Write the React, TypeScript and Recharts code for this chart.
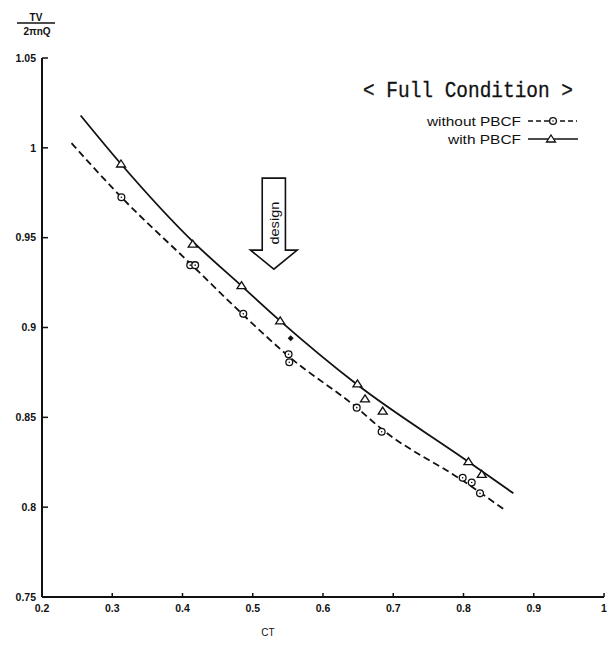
import React from 'react';
import {
  ComposedChart,
  Line,
  Scatter,
  XAxis,
  YAxis,
  ReferenceDot,
  Legend,
} from 'recharts';

// Measured points, open circles: without PBCF
const withoutPbcfCt = [0.313, 0.411, 0.418, 0.4865, 0.551, 0.552, 0.648, 0.6835, 0.7988, 0.8117, 0.8235];
const withoutPbcfTv = [0.9725, 0.9347, 0.9347, 0.9076, 0.8851, 0.8807, 0.8554, 0.842, 0.8164, 0.8137, 0.8077];

// Measured points, open triangles: with PBCF
const withPbcfCt = [0.3125, 0.4145, 0.484, 0.539, 0.649, 0.6598, 0.685, 0.807, 0.826];
const withPbcfTv = [0.991, 0.9464, 0.9233, 0.9037, 0.8686, 0.8603, 0.8535, 0.8253, 0.8183];

// Single filled mark near the design point
const filledCt = [0.554];
const filledTv = [0.894];

// Faired curves
const withoutCurveCt = [0.242, 0.313, 0.414, 0.4865, 0.551, 0.648, 0.6835, 0.8, 0.859];
const withoutCurveTv = [1.0026, 0.9725, 0.9345, 0.907, 0.884, 0.8554, 0.8435, 0.8145, 0.7984];
const withCurveCt = [0.255, 0.3125, 0.4148, 0.484, 0.539, 0.648, 0.807, 0.871];
const withCurveTv = [1.018, 0.991, 0.9478, 0.9232, 0.9037, 0.8684, 0.8253, 0.8077];

// Axis ticks
const xTicks = [0.2, 0.3, 0.4, 0.5, 0.6, 0.7, 0.8, 0.9, 1];
const yTicks = [0.75, 0.8, 0.85, 0.9, 0.95, 1, 1.05];

// Design-point arrow (tip position)
const designCt = 0.53;
const designTv = 0.9325;

const toPoints = (xs: number[], ys: number[]) => xs.map((ct, i) => ({ ct, tv: ys[i] }));

const withoutPoints = toPoints(withoutPbcfCt, withoutPbcfTv);
const withPoints = toPoints(withPbcfCt, withPbcfTv);
const filledPoints = toPoints(filledCt, filledTv);
const withoutCurve = toPoints(withoutCurveCt, withoutCurveTv);
const withCurve = toPoints(withCurveCt, withCurveTv);

const INK = '#111';
const TICK_FONT = '"Liberation Sans", Arial, sans-serif';
const Y_TICK_MARGIN = 5;
const X_TICK_MARGIN = 6;

const YTick = (props: any) => {
  const { x, y, payload } = props;
  const axisX = x + Y_TICK_MARGIN;
  return (
    <g>
      <line x1={axisX} x2={axisX + 6} y1={y} y2={y} stroke={INK} strokeWidth={1.5} />
      <text
        x={x - 1}
        y={y}
        dy="0.36em"
        textAnchor="end"
        fontFamily={TICK_FONT}
        fontWeight={700}
        fontSize={10.5}
        fill={INK}
      >
        {String(payload.value)}
      </text>
    </g>
  );
};

const XTick = (props: any) => {
  const { x, y, payload } = props;
  const axisY = y - X_TICK_MARGIN;
  return (
    <g>
      <line x1={x} x2={x} y1={axisY} y2={axisY - 4} stroke={INK} strokeWidth={1.5} />
      <text
        x={x}
        y={y}
        dy="0.85em"
        textAnchor="middle"
        fontFamily={TICK_FONT}
        fontWeight={700}
        fontSize={10.5}
        fill={INK}
      >
        {String(payload.value)}
      </text>
    </g>
  );
};

const YAxisTitle = (props: any) => {
  const vb = props.viewBox || { x: 0, y: 58 };
  const cx = vb.x + 36;
  const top = vb.y;
  return (
    <g fontFamily={TICK_FONT} fontWeight={700} fill={INK}>
      <text x={cx} y={top - 37} textAnchor="middle" fontSize={10}>TV</text>
      <line x1={cx - 19} x2={cx + 19} y1={top - 35} y2={top - 35} stroke={INK} strokeWidth={1.3} />
      <text x={cx + 1} y={top - 23} textAnchor="middle" fontSize={10}>2πnQ</text>
    </g>
  );
};

const XAxisTitle = (props: any) => {
  const vb = props.viewBox || { x: 42, y: 597 };
  return (
    <text
      x={vb.x + 226}
      y={vb.y + 39}
      textAnchor="middle"
      fontFamily={TICK_FONT}
      fontSize={10}
      fill={INK}
    >
      CT
    </text>
  );
};

const CircleMark = (props: any) => {
  const { cx, cy } = props;
  return (
    <g>
      <circle cx={cx} cy={cy} r={3.4} fill="#fff" stroke={INK} strokeWidth={1.3} />
      <circle cx={cx} cy={cy} r={0.8} fill={INK} />
    </g>
  );
};

const TriangleMark = (props: any) => {
  const { cx, cy } = props;
  const d = `M${cx},${cy - 4} L${cx + 4.5},${cy + 3} L${cx - 4.5},${cy + 3} Z`;
  return <path d={d} fill="#fff" stroke={INK} strokeWidth={1.3} />;
};

const FilledMark = (props: any) => {
  const { cx, cy } = props;
  const d = `M${cx},${cy - 3} L${cx + 3},${cy} L${cx},${cy + 3} L${cx - 3},${cy} Z`;
  return <path d={d} fill={INK} />;
};

const DesignArrow = (props: any) => {
  const { cx, cy } = props;
  const bw = 11.6;
  const hw = 23.4;
  const hh = 19;
  const bh = 91;
  const d = `M${cx},${cy} L${cx - hw},${cy - hh} L${cx - bw},${cy - hh} L${cx - bw},${cy - bh} L${cx + bw},${cy - bh} L${cx + bw},${cy - hh} L${cx + hw},${cy - hh} Z`;
  return (
    <g>
      <path d={d} fill="#fff" stroke={INK} strokeWidth={1.6} strokeLinejoin="miter" />
      <text
        transform={`translate(${cx + 1},${cy - 46}) rotate(-90)`}
        textAnchor="middle"
        dominantBaseline="central"
        fontFamily={TICK_FONT}
        fontSize={13.5}
        textLength={43}
        lengthAdjust="spacingAndGlyphs"
        fill={INK}
      >
        design
      </text>
    </g>
  );
};

const LegendBox = () => (
  <svg width={260} height={100} style={{ display: 'block', overflow: 'visible' }}>
    <text
      x={8}
      y={37}
      fontFamily='"Liberation Mono", monospace'
      fontSize={22}
      textLength={210}
      lengthAdjust="spacingAndGlyphs"
      fill={INK}
      stroke={INK}
      strokeWidth={0.3}
    >
      {'< Full Condition >'}
    </text>
    <text
      x={72}
      y={66}
      fontFamily={TICK_FONT}
      fontSize={13}
      textLength={94}
      lengthAdjust="spacingAndGlyphs"
      fill={INK}
    >
      without PBCF
    </text>
    <line x1={173} x2={222} y1={61} y2={61} stroke={INK} strokeWidth={1.6} strokeDasharray="5 3" />
    <CircleMark cx={198} cy={61} />
    <text
      x={93}
      y={84}
      fontFamily={TICK_FONT}
      fontSize={13}
      textLength={73}
      lengthAdjust="spacingAndGlyphs"
      fill={INK}
    >
      with PBCF
    </text>
    <line x1={173} x2={223} y1={79} y2={79} stroke={INK} strokeWidth={1.6} />
    <TriangleMark cx={196} cy={79} />
  </svg>
);

export default function App() {
  return (
    <div style={{ position: 'absolute', left: 0, top: 0, width: 610, height: 650, background: '#fff' }}>
      <ComposedChart
        width={610}
        height={650}
        margin={{ top: 58, right: 6, bottom: 0, left: 0 }}
      >
        <XAxis
          dataKey="ct"
          type="number"
          domain={[0.2, 1]}
          ticks={xTicks}
          allowDataOverflow
          height={53}
          tickSize={0}
          tickMargin={X_TICK_MARGIN}
          tick={<XTick />}
          axisLine={{ stroke: INK, strokeWidth: 2 }}
          label={<XAxisTitle />}
        />
        <YAxis
          dataKey="tv"
          type="number"
          domain={[0.75, 1.05]}
          ticks={yTicks}
          allowDataOverflow
          width={42}
          tickSize={0}
          tickMargin={Y_TICK_MARGIN}
          tick={<YTick />}
          axisLine={{ stroke: INK, strokeWidth: 2 }}
          label={<YAxisTitle />}
        />
        <Legend
          layout="horizontal"
          align="center"
          verticalAlign="middle"
          content={<LegendBox />}
          wrapperStyle={{ left: 355, top: 60, width: 260, height: 100 }}
        />
        <Line
          data={withoutCurve}
          dataKey="tv"
          type="monotone"
          stroke={INK}
          strokeWidth={1.8}
          strokeDasharray="7 4"
          dot={false}
          activeDot={false}
          isAnimationActive={false}
          legendType="none"
        />
        <Line
          data={withCurve}
          dataKey="tv"
          type="monotone"
          stroke={INK}
          strokeWidth={1.8}
          dot={false}
          activeDot={false}
          isAnimationActive={false}
          legendType="none"
        />
        <Scatter
          data={withoutPoints}
          dataKey="tv"
          shape={<CircleMark />}
          isAnimationActive={false}
          legendType="none"
        />
        <Scatter
          data={withPoints}
          dataKey="tv"
          shape={<TriangleMark />}
          isAnimationActive={false}
          legendType="none"
        />
        <Scatter
          data={filledPoints}
          dataKey="tv"
          shape={<FilledMark />}
          isAnimationActive={false}
          legendType="none"
        />
        <ReferenceDot
          x={designCt}
          y={designTv}
          r={0}
          ifOverflow="visible"
          shape={<DesignArrow />}
        />
      </ComposedChart>
    </div>
  );
}
